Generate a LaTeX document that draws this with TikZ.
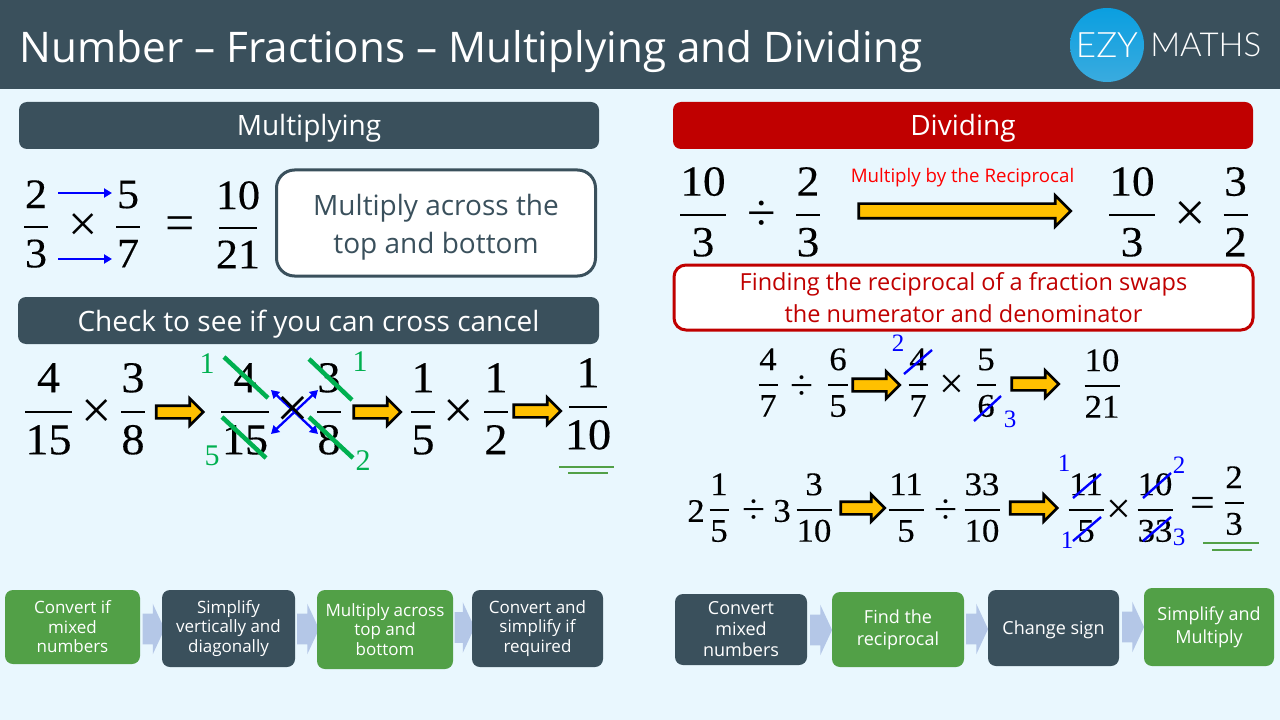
\documentclass[tikz,border=0pt]{standalone}
\usepackage{fontspec}
\usetikzlibrary{shapes.arrows,arrows.meta}
\setmainfont{Open Sans}
\newfontfamily\mathf[FakeBold=0.25,FakeStretch=1.05]{Liberation Serif}
\newfontfamily\cutf{Liberation Serif}
\newfontfamily\logof{Lato Light}
\newlength\px \setlength\px{0.75pt}
\definecolor{slate}{HTML}{3A505C}
\definecolor{pagebg}{HTML}{E9F7FE}
\definecolor{crimson}{HTML}{C00000}
\definecolor{goodgreen}{HTML}{00B050}
\definecolor{leaf}{HTML}{52A047}
\definecolor{chev}{HTML}{B4C7E7}
\definecolor{amber}{HTML}{FFC000}
\definecolor{logotop}{HTML}{0A9FE0}
\definecolor{logobot}{HTML}{3AABDF}
\newcommand{\fsz}[1]{\fontsize{#1\px}{1.2\dimexpr#1\px\relax}\selectfont}
\newcommand{\fszb}[2]{\fontsize{#1\px}{#2\px}\selectfont}
\tikzset{
  x=0.75pt,y=-0.75pt,
  panel/.style={rounded corners=8\px,inner sep=0pt,text=white,font=\fsz{28},text height=21\px,text depth=0pt},
  flowgreen/.style={fill=leaf,rounded corners=8\px,inner sep=0pt,text=white,align=center,font=\fszb{17}{19.5}},
  flowdark/.style={flowgreen,fill=slate},
  chevron/.style={single arrow,fill=chev,inner xsep=0pt,inner ysep=15\px,minimum width=50\px,single arrow head extend=10\px,single arrow tip angle=130,minimum height=22\px},
  orange/.style={single arrow,fill=amber,draw=black,line width=2.7\px,inner xsep=0pt,inner ysep=5\px,minimum width=26\px,single arrow head extend=7\px,single arrow tip angle=90,minimum height=47\px},
  numeral/.style={inner sep=0pt,anchor=base,text=black},
  strikeg/.style={goodgreen,line width=4.5\px},
  strikeb/.style={blue,line width=2.4\px},
  cutg/.style={text=goodgreen,inner sep=0pt,font=\cutf\fsz{30}},
  cutb/.style={text=blue,inner sep=0pt,font=\cutf\fsz{25}},
  op/.style={inner sep=0pt,text=black},
  under/.style={leaf,line width=2\px},
  bluearrow/.style={blue,line width=2.3\px,-{Triangle[length=6pt,width=6.75pt]}},
  bluedouble/.style={blue,line width=2.3\px,{Triangle[length=6pt,width=6.75pt]}-{Triangle[length=6pt,width=6.75pt]}},
}
% \frc{name}{cx}{bar y}{half bar}{size}{num}{den}
\newcommand{\frc}[7]{%
  \pgfmathsetmacro\numy{#3-0.45*#5}\pgfmathsetmacro\deny{#3+0.96*#5}%
  \pgfmathsetmacro\barl{#2-#4}\pgfmathsetmacro\barr{#2+#4}%
  \node[numeral,font=\mathf\fsz{#5}] (#1n) at (#2,\numy) {#6};
  \node[numeral,font=\mathf\fsz{#5}] (#1d) at (#2,\deny) {#7};
  \coordinate (#1l) at (\barl,#3); \coordinate (#1r) at (\barr,#3);
  \draw[black,line width=2\px] (#1l) -- (#1r);
}
\newcommand{\opr}[5]{\node[op,font=\cutf\fsz{#4}] (#1) at (#2,#3) {#5};}
\begin{document}
\begin{tikzpicture}
\useasboundingbox (0,0) rectangle (1280,720);
\fill[pagebg] (0,0) rectangle (1280,720);
\fill[slate] (0,0) rectangle (1280,89);
\node[anchor=west,inner sep=0pt,text=white,font=\fsz{42.2}] (title) at (19.5,52) {Number – Fractions – Multiplying and Dividing};
% logo
\shade[top color=logotop,bottom color=logobot] (1107,45) circle (37);
\node[text=white,inner sep=0pt,font=\logof\fsz{35}] (ezy) at (1107,45) {EZY};
\node[text=white,inner sep=0pt,font=\logof\fsz{33},anchor=west] (maths) at (1150,45) {MATHS};

% panels
\node[panel,fill=slate,minimum width=580\px,minimum height=47\px] (mult) at (309,125.5) {Multiplying};
\node[panel,fill=crimson,minimum width=580\px,minimum height=47\px] (divi) at (963,125.5) {Dividing};
\node[panel,fill=slate,minimum width=581\px,minimum height=47\px] (check) at (308.5,320.5) {Check to see if you can cross cancel};
\node[draw=slate,fill=white,line width=3\px,rounded corners=18\px,minimum width=319\px,minimum height=106\px,inner sep=0pt] (across) at (436,223) {};
\node[inner sep=0pt,text=slate,align=center,font=\fszb{28}{38}] (acrosstext) at (436,227) {Multiply across the\\top and bottom};
\node[draw=crimson,fill=white,line width=3\px,rounded corners=12\px,minimum width=579\px,minimum height=65\px,inner sep=0pt,text=crimson,align=center,font=\fszb{23.5}{32}] (recip) at (963.5,297.5) {Finding the reciprocal of a fraction swaps\\the numerator and denominator};

% first multiply row
\frc{fa}{36}{227}{12}{42}{2}{3}
\opr{xa}{83}{228}{52}{×}
\frc{fb}{128}{227}{12}{42}{5}{7}
\opr{eqa}{180}{229}{52}{=}
\frc{fc}{238}{228}{19}{42}{10}{21}
\coordinate (ba1) at (58,193); \coordinate (ba2) at (112,193);
\coordinate (bb1) at (58,259); \coordinate (bb2) at (112,259);
\draw[bluearrow] (ba1) -- (ba2);
\draw[bluearrow] (bb1) -- (bb2);

% cross cancel row
\frc{ga}{48.5}{412}{23.5}{44}{4}{15}
\opr{xb}{97}{414}{54}{×}
\frc{gb}{133}{412}{12}{44}{3}{8}
\node[orange] (oa) at (176.5,412) {};
\frc{gc}{245}{412}{24}{44}{4}{15}
\frc{gd}{329}{412}{12}{44}{3}{8}
\coordinate (c1) at (271,390); \coordinate (c2) at (318,434);
\coordinate (c3) at (271,434); \coordinate (c4) at (318,390);
\draw[bluedouble] (c1) -- (c2);
\draw[bluedouble] (c3) -- (c4);
\opr{xc}{293}{412}{58}{×}
\draw[strikeg] (224,357) coordinate (s1) -- (268,398) coordinate (s2);
\draw[strikeg] (309,359) coordinate (s3) -- (352,400) coordinate (s4);
\draw[strikeg] (222,417) coordinate (s5) -- (266,458) coordinate (s6);
\draw[strikeg] (309,417) coordinate (s7) -- (353,458) coordinate (s8);
\node[cutg] (l1) at (207,364) {1};
\node[cutg] (l2) at (360,362) {1};
\node[cutg] (l3) at (212,456) {5};
\node[cutg] (l4) at (363,461) {2};
\node[orange] (ob) at (374,412) {};
\frc{ge}{423}{412}{12}{44}{1}{5}
\opr{xd}{459}{414}{54}{×}
\frc{gf}{496}{412}{12}{44}{1}{2}
\node[orange] (oc) at (534,411) {};
\frc{gg}{588}{407}{19}{44}{1}{10}
\draw[under] (559,467) coordinate (u1) -- (614,467) coordinate (u2);
\draw[under] (568,473) coordinate (u3) -- (608,473) coordinate (u4);

% divide top row
\frc{ha}{703}{215}{23}{43}{10}{3}
\opr{da}{762}{216}{52}{÷}
\frc{hb}{808}{215}{12}{43}{2}{3}
\node[inner sep=0pt,text=red,font=\fsz{18.7}] (mbr) at (962.5,178) {Multiply by the Reciprocal};
\node[orange,inner ysep=6\px,minimum width=28\px,single arrow head extend=8\px,minimum height=212\px] (od) at (961,211) {};
\frc{hc}{1132}{215}{23}{43}{10}{3}
\opr{xe}{1190}{216}{56}{×}
\frc{hd}{1235.5}{215}{12}{43}{3}{2}

% second divide row
\frc{ia}{768}{385}{9.5}{33}{4}{7}
\opr{db}{802}{388}{42}{÷}
\frc{ib}{838}{385}{10}{33}{6}{5}
\node[orange] (oe) at (873,385) {};
\frc{ic}{918}{385}{9.5}{33}{4}{7}
\opr{xf}{952}{387}{44}{×}
\frc{id}{986}{385}{9.5}{33}{5}{6}
\node[orange] (of) at (1032,384) {};
\frc{ie}{1102}{386}{17.5}{33}{10}{21}
\draw[strikeb] (904,374) coordinate (t1) -- (932,350) coordinate (t2);
\draw[strikeb] (974,421) coordinate (t3) -- (1001,396) coordinate (t4);
\node[cutb] (m1) at (898,343) {2};
\node[cutb] (m2) at (1010,419) {3};

% third divide row
\node[numeral,anchor=center,font=\mathf\fsz{33}] (ja) at (696,511) {2};
\frc{jb}{719}{510}{9.5}{33}{1}{5}
\opr{dc}{754}{512}{42}{÷}
\node[numeral,anchor=center,font=\mathf\fsz{33}] (jc) at (782,511) {3};
\frc{jd}{814}{510}{17.5}{33}{3}{10}
\node[orange,minimum height=44\px] (og) at (859.5,508) {};
\frc{je}{906}{510}{17.5}{33}{11}{5}
\opr{dd}{946}{512}{42}{÷}
\frc{jf}{982}{510}{17.5}{33}{33}{10}
\node[orange,minimum height=47\px] (oh) at (1030.5,508) {};
\frc{jg}{1086}{510}{17.5}{33}{11}{5}
\opr{xg}{1119}{512}{44}{×}
\frc{jh}{1155}{510}{17.5}{33}{10}{33}
\opr{eb}{1203}{507}{44}{=}
\frc{ji}{1234}{503}{9.5}{33}{2}{3}
\draw[strikeb] (1073,498) coordinate (v1) -- (1101,474) coordinate (v2);
\draw[strikeb] (1073,541) coordinate (v3) -- (1101,517) coordinate (v4);
\draw[strikeb] (1143,498) coordinate (v5) -- (1171,473) coordinate (v6);
\draw[strikeb] (1143,541) coordinate (v7) -- (1171,517) coordinate (v8);
\node[cutb] (n1) at (1064,463) {1};
\node[cutb] (n2) at (1179,465) {2};
\node[cutb] (n3) at (1067,540) {1};
\node[cutb] (n4) at (1179,537) {3};
\draw[under] (1203,543) coordinate (w1) -- (1259,543) coordinate (w2);
\draw[under] (1212,550) coordinate (w3) -- (1252,550) coordinate (w4);

% flows
\node[chevron] (pa) at (150,629) {};
\node[chevron] (pb) at (304.5,629) {};
\node[chevron,minimum height=20\px] (pc) at (461,627.5) {};
\node[flowgreen,minimum width=135\px,minimum height=74\px] (qa) at (72.5,627) {Convert if\\mixed\\numbers};
\node[flowdark,minimum width=133\px,minimum height=77\px] (qb) at (228.5,628.5) {Simplify\\vertically and\\diagonally};
\node[flowgreen,minimum width=136\px,minimum height=79\px] (qc) at (385,629.5) {Multiply across\\top and\\bottom};
\node[flowdark,minimum width=131\px,minimum height=77\px] (qd) at (537.5,628.5) {Convert and\\simplify if\\required};

\node[chevron] (ra) at (817.5,630) {};
\node[chevron] (rb) at (973.5,629) {};
\node[chevron] (rc) at (1129.5,627) {};
\node[flowdark,minimum width=132\px,minimum height=71\px,font=\fszb{18}{21}] (sa) at (741,629.5) {Convert\\mixed\\numbers};
\node[flowgreen,minimum width=132\px,minimum height=75\px,font=\fszb{18}{22}] (sb) at (898,629.5) {Find the\\reciprocal};
\node[flowdark,minimum width=131\px,minimum height=76\px,font=\fszb{18}{22},text height=12.6\px,text depth=0pt] (sc) at (1053.5,628) {Change sign};
\node[flowgreen,minimum width=130\px,minimum height=78\px,font=\fszb{18}{23}] (sd) at (1209,627) {Simplify and\\Multiply};
\end{tikzpicture}
\end{document}
